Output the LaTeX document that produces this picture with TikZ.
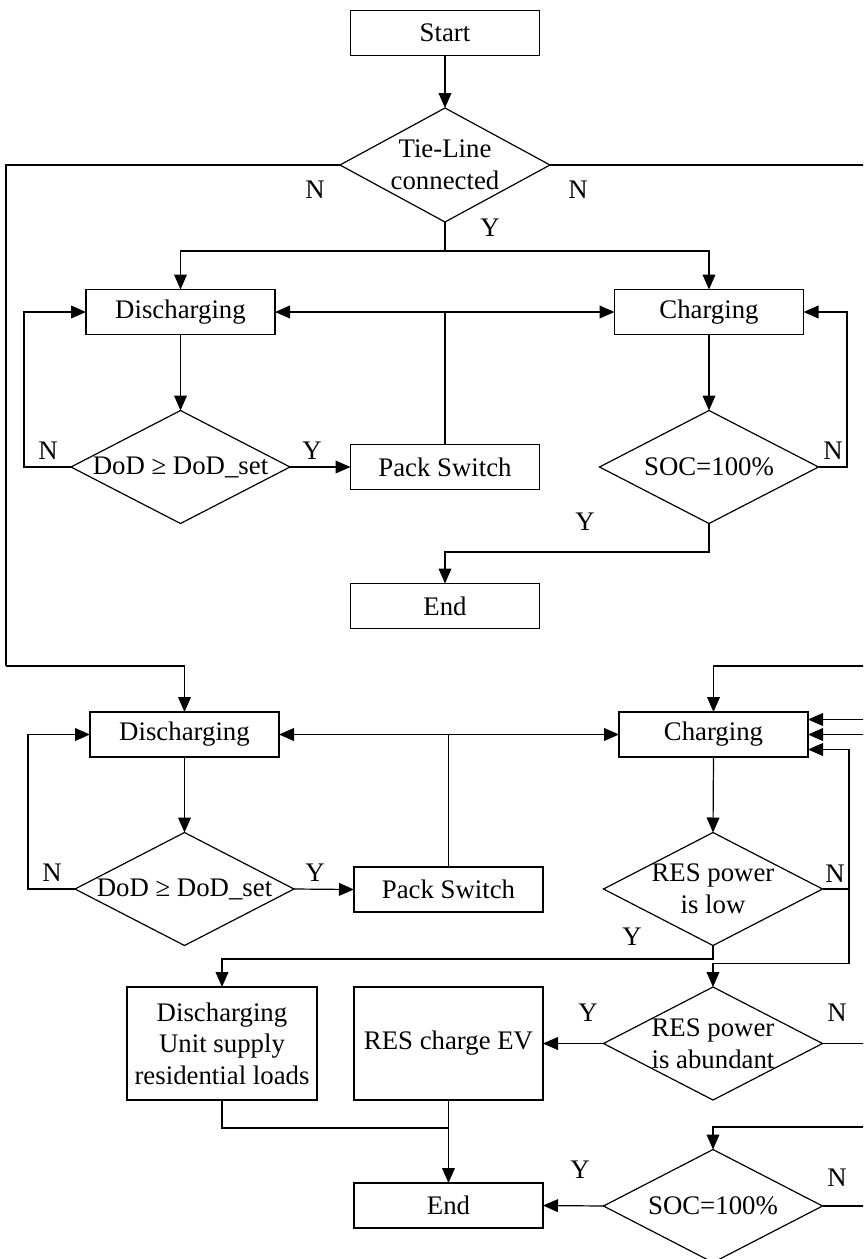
\documentclass[tikz,border=0pt]{standalone}
\usepackage{fontspec}
\setmainfont{Liberation Serif}
\usetikzlibrary{arrows.meta,shapes.geometric}
\begin{document}
\begin{tikzpicture}[x=0.5pt,y=-0.5pt,
  every node/.style={font=\fontsize{13.4}{15.8}\selectfont, outer sep=0pt},
  box/.style={draw, line width=0.6pt, minimum width=94.5pt, minimum height=22.5pt, inner sep=0pt},
  tallbox/.style={draw, line width=0.6pt, minimum width=94.5pt, minimum height=56.5pt, inner sep=0pt, align=center},
  dia/.style={draw, line width=0.6pt, diamond, inner sep=0pt, minimum width=109.5pt, minimum height=56.5pt},
  txt/.style={inner sep=0pt, align=center},
  lbl/.style={inner sep=0pt},
  line/.style={draw, line width=0.6pt},
  arr/.style={draw, line width=0.6pt, -{Triangle[length=7.5pt,width=6.4pt]}},
]
\useasboundingbox (0,0) rectangle (863,1259);
\clip (0,0) rectangle (863,1259);

% ---------- upper part ----------
\node[box] (start) at (445,33) {Start};
\node[dia, minimum width=105pt, minimum height=57pt] (tie) at (445,165) {};
\node[txt] (tiet) at (445,165) {Tie-Line\\connected};
\node[box] (dis1) at (180.5,312) {Discharging};
\node[box] (ch1) at (709,312) {Charging};
\node[dia] (dod1) at (180.5,467) {};
\node[txt] (dod1t) at (180.5,467) {DoD ≥ DoD\_set};
\node[box] (ps1) at (445,467) {Pack Switch};
\node[dia] (soc1) at (709,467) {};
\node[txt] (soc1t) at (709,467) {SOC=100\%};
\node[box] (end1) at (445,606) {End};

% ---------- lower part ----------
\node[box] (dis2) at (184.5,734.5) {Discharging};
\node[box] (ch2) at (713.5,734.5) {Charging};
\node[dia] (dod2) at (184.5,889) {};
\node[txt] (dod2t) at (184.5,889) {DoD ≥ DoD\_set};
\node[box] (ps2) at (448.5,889.5) {Pack Switch};
\node[dia] (low) at (713,889) {};
\node[txt] (lowt) at (713,889) {RES power\\is low};
\node[tallbox, minimum width=95pt] (dusrl) at (222,1043.5) {Discharging\\Unit supply\\residential loads};
\node[tallbox] (rescev) at (448.5,1043.5) {RES charge EV};
\node[dia] (abund) at (713,1043.5) {};
\node[txt] (abundt) at (713,1044) {RES power\\is abundant};
\node[box] (end2) at (448.5,1205.5) {End};
\node[dia] (soc2) at (713,1206) {};
\node[txt] (soc2t) at (713,1206) {SOC=100\%};

% ---------- labels ----------
\node[lbl] (lN1) at (315,190) {N};
\node[lbl] (lN2) at (578,190) {N};
\node[lbl] (lY1) at (490,228) {Y};
\node[lbl] (lN3) at (48,451) {N};
\node[lbl] (lY2) at (312,451) {Y};
\node[lbl] (lN4) at (833,451) {N};
\node[lbl] (lY3) at (585,522) {Y};
\node[lbl] (lN5) at (52,873) {N};
\node[lbl] (lY4) at (315,873) {Y};
\node[lbl] (lN6) at (835,874) {N};
\node[lbl] (lY5) at (632,937) {Y};
\node[lbl] (lY6) at (588,1013) {Y};
\node[lbl] (lN7) at (837,1013) {N};
\node[lbl] (lY7) at (580,1170) {Y};
\node[lbl] (lN8) at (837,1178) {N};

% ---------- coordinates ----------
\coordinate (lt) at (6,165);
\coordinate (lb) at (6,666);
\coordinate (rt) at (870,165);
\coordinate (br1) at (445,251);
\coordinate (loop1) at (24,467);
\coordinate (loop2) at (847,467);
\coordinate (e1) at (709,552);
\coordinate (r666) at (870,666);
\coordinate (r719) at (870,719.5);
\coordinate (r734) at (870,734.5);
\coordinate (loop3) at (28,889);
\coordinate (v1) at (849,889);
\coordinate (v2) at (849,749.5);
\coordinate (v3) at (849,963.5);
\coordinate (yb) at (713,959);
\coordinate (r1044) at (870,1043.5);
\coordinate (mg) at (448.5,1128);
\coordinate (r1127) at (870,1127);
\coordinate (r1206) at (870,1206);

% ---------- connectors (upper) ----------
\draw[arr] (start.south) -- (tie.north);
\draw[line] (tie.west) -- (lt) -- (lb);
\draw[arr] (lb) -| (dis2.north);
\draw[line] (tie.east) -- (rt);
\draw[line] (tie.south) -- (br1);
\draw[arr] (br1) -| (dis1.north);
\draw[arr] (br1) -| (ch1.north);
\draw[arr] (dis1.south) -- (dod1.north);
\draw[arr] (dod1.west) -- (loop1) |- (dis1.west);
\draw[arr] (dod1.east) -- (ps1.west);
\draw[arr] (ps1.north) |- (dis1.east);
\draw[arr] (ps1.north) |- (ch1.west);
\draw[arr] (ch1.south) -- (soc1.north);
\draw[arr] (soc1.east) -- (loop2) |- (ch1.east);
\draw[arr] (soc1.south) -- (e1) -| (end1.north);

% ---------- connectors (lower) ----------
\draw[arr] (r666) -| (ch2.north);
\draw[arr] (r719) -- (r719 -| ch2.east);
\draw[arr] (r734) -- (ch2.east);
\draw[arr] (dis2.south) -- (dod2.north);
\draw[arr] (dod2.west) -- (loop3) |- (dis2.west);
\draw[arr] (dod2.east) -- (ps2.west);
\draw[arr] (ps2.north) |- (dis2.east);
\draw[arr] (ps2.north) |- (ch2.west);
\draw[arr] (ch2.south) -- (low.north);
\draw[arr] (low.east) -- (v1) -- (v2) -- (v2 -| ch2.east);
\draw[arr] (v1) -- (v3) -| (abund.north);
\draw[arr] (low.south) -- (yb) -| (dusrl.north);
\draw[arr] (abund.west) -- (rescev.east);
\draw[line] (abund.east) -- (r1044);
\draw[line] (dusrl.south) |- (mg);
\draw[arr] (rescev.south) -- (end2.north);
\draw[arr] (r1127) -| (soc2.north);
\draw[arr] (soc2.west) -- (end2.east);
\draw[line] (soc2.east) -- (r1206);
\end{tikzpicture}
\end{document}
